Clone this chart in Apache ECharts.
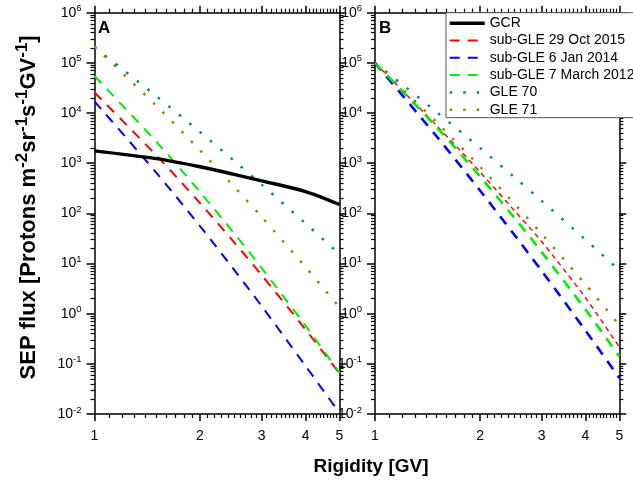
<!DOCTYPE html>
<html><head><meta charset="utf-8">
<script src="https://cdn.jsdelivr.net/npm/echarts@6/dist/echarts.min.js"></script>
<style>html,body{margin:0;padding:0;background:#fff}#c{width:633px;height:483px}</style>
</head><body><div id="c"></div>
<script>
// ---- data ----
const rigidity = [1, 1.5, 2, 2.5, 3, 4, 5];
const seriesNames = ['GCR', 'sub-GLE 29 Oct 2015', 'sub-GLE 6 Jan 2014', 'sub-GLE 7 March 2012', 'GLE 70', 'GLE 71'];
// Panel A
const gcrA     = [1760, 1230, 850, 600, 445, 272, 150];
const oct2015A = [25700, 1435, 160, 26.7, 5.86, 0.483, 0.064];
const jan2014A = [17100, 650, 55.5, 7.56, 1.41, 0.0906, 0.0105];
const mar2012A = [54700, 2690, 267, 40.4, 8.11, 0.574, 0.0664];
const gle70A   = [205000, 21800, 4190, 1119, 373, 63.1, 15.3];
const gle71A   = [212000, 14000, 1803, 343, 84.3, 8.49, 1.33];
// Panel B
const oct2015B = [100000, 5620, 661, 115, 27.2, 2.08, 0.216];
const jan2014B = [100000, 3440, 282, 37.9, 7.08, 0.463, 0.0523];
const mar2012B = [100000, 5230, 538, 83, 16.9, 1.21, 0.141];
const gle70B   = [100000, 10500, 1995, 532, 177, 30.0, 7.31];
const gle71B   = [100000, 6580, 841, 158, 38.7, 3.84, 0.593];
// ticks
const xMajorTicks = [1, 2, 3, 4, 5];
const xMinorTicks = [1.1,1.2,1.3,1.4,1.5,1.6,1.7,1.8,1.9,2.1,2.2,2.3,2.4,2.5,2.6,2.7,2.8,2.9,3.1,3.2,3.3,3.4,3.5,3.6,3.7,3.8,3.9,4.1,4.2,4.3,4.4,4.5,4.6,4.7,4.8,4.9];
const yMajorTicks = [0.01, 0.1, 1, 10, 100, 1000, 10000, 100000, 1000000];
const yMinorTicks = [];
for (let e = -2; e <= 5; e++) for (let k = 2; k <= 9; k++) yMinorTicks.push(+(k * Math.pow(10, e)).toPrecision(6));

const FONT = '"Liberation Sans", Arial, sans-serif';
const BLACK = '#000';
const C = {gcr:'#000000', red:'#ff0000', blue:'#0000ff', green:'#00ee00', teal:'#00868b', olive:'#8b8b00'};

const grids = [
  {left: 94.5, top: 12.7, width: 245, height: 401.3},
  {left: 375, top: 12.7, width: 244.3, height: 401.3}
];

function xAxes(gi) {
  const base = {gridIndex: gi, type: 'log', logBase: 10, min: 1, max: 5, splitLine: {show: false}, minorTick:{show:false}};
  return [
    Object.assign({}, base, {position: 'bottom',
      axisLine: {show: true, lineStyle: {color: BLACK, width: 1.5}},
      axisTick: {show: true, inside: false, length: 7, lineStyle: {color: BLACK, width: 1.5}, customValues: xMajorTicks},
      axisLabel: {show: true, customValues: xMajorTicks, formatter: v => String(Math.round(v)), fontSize: 14, color: BLACK, fontFamily: FONT, margin: 15}}),
    Object.assign({}, base, {position: 'bottom', axisLine: {show: false},
      axisTick: {show: true, inside: false, length: 4, lineStyle: {color: BLACK, width: 1.2}, customValues: xMinorTicks},
      axisLabel: {show: false}}),
    Object.assign({}, base, {position: 'top',
      axisLine: {show: true, lineStyle: {color: BLACK, width: 1.5}},
      axisTick: {show: true, inside: false, length: 7, lineStyle: {color: BLACK, width: 1.5}, customValues: xMajorTicks},
      axisLabel: {show: false}}),
    Object.assign({}, base, {position: 'top', axisLine: {show: false},
      axisTick: {show: true, inside: false, length: 4, lineStyle: {color: BLACK, width: 1.2}, customValues: xMinorTicks},
      axisLabel: {show: false}})
  ];
}
function yAxes(gi, withName) {
  const base = {gridIndex: gi, type: 'log', logBase: 10, min: 0.01, max: 1000000, splitLine: {show: false}, minorTick:{show:false}};
  const left = Object.assign({}, base, {position: 'left',
      axisLine: {show: true, lineStyle: {color: BLACK, width: 1.5}},
      axisTick: {show: true, inside: false, length: 8, lineStyle: {color: BLACK, width: 1.5}, customValues: yMajorTicks},
      axisLabel: {show: true, customValues: yMajorTicks, margin: 13, color: BLACK,
        formatter: v => '{b|10}{s|' + Math.round(Math.log10(v)) + '}',
        rich: {b: {fontSize: 14, fontFamily: FONT, color: BLACK, lineHeight: 18},
               s: {fontSize: 9.5, fontFamily: FONT, color: BLACK, lineHeight: 11, verticalAlign: 'top'}}}});
  if (withName) {
    Object.assign(left, {
      name: '{t|SEP flux [Protons m}{s|-2}{t|sr}{s|-1}{t|s}{s|-1}{t|GV}{s|-1}{t|]}',
      nameLocation: 'middle', nameRotate: 90, nameGap: 50,
      nameTextStyle: {padding: [0, 0, 0, 12], rich: {
        t: {fontSize: 22, fontWeight: 'bold', fontFamily: FONT, color: BLACK, lineHeight: 31},
        s: {fontSize: 17, fontWeight: 'bold', fontFamily: FONT, color: BLACK, lineHeight: 17, verticalAlign: 'top'}}}
    });
  }
  return [
    left,
    Object.assign({}, base, {position: 'left', axisLine: {show: false},
      axisTick: {show: true, inside: false, length: 4, lineStyle: {color: BLACK, width: 1.2}, customValues: yMinorTicks},
      axisLabel: {show: false}}),
    Object.assign({}, base, {position: 'right',
      axisLine: {show: true, lineStyle: {color: BLACK, width: 1.5}},
      axisTick: {show: true, inside: false, length: 7, lineStyle: {color: BLACK, width: 1.5}, customValues: yMajorTicks},
      axisLabel: {show: false}}),
    Object.assign({}, base, {position: 'right', axisLine: {show: false},
      axisTick: {show: true, inside: false, length: 4, lineStyle: {color: BLACK, width: 1.2}, customValues: yMinorTicks},
      axisLabel: {show: false}})
  ];
}

function pairs(vals) { return rigidity.map((r, i) => [r, vals[i]]); }
function line(name, vals, axisIdx, color, width, type, z) {
  return {name: name, type: 'line', xAxisIndex: axisIdx, yAxisIndex: axisIdx, data: pairs(vals),
    showSymbol: false, symbol: 'none', smooth: 0.3, z: z || 3, clip: true,
    itemStyle: {color: color},
    lineStyle: {color: color, width: width, type: type, cap: 'butt'}};
}

const DASH = [10, 8];
const DOT = [2.5, 11];
const series = [
  line(seriesNames[0], gcrA, 0, C.gcr, 3.4, 'solid', 4),
  line(seriesNames[1], oct2015A, 0, C.red, 2, DASH),
  line(seriesNames[2], jan2014A, 0, C.blue, 2, DASH),
  line(seriesNames[3], mar2012A, 0, C.green, 2, DASH),
  line(seriesNames[4], gle70A, 0, C.teal, 2.5, DOT),
  line(seriesNames[5], gle71A, 0, C.olive, 2.5, DOT),
  line(seriesNames[1], oct2015B, 4, C.red, 1.4, [5, 4]),
  line(seriesNames[2], jan2014B, 4, C.blue, 2.6, DASH),
  line(seriesNames[3], mar2012B, 4, C.green, 2.6, DASH),
  line(seriesNames[4], gle70B, 4, C.teal, 2.5, DOT),
  line(seriesNames[5], gle71B, 4, C.olive, 2.5, DOT)
];

const option = {
  animation: false,
  backgroundColor: '#fff',
  grid: grids,
  xAxis: xAxes(0).concat(xAxes(1)),
  yAxis: yAxes(0, true).concat(yAxes(1, false)),
  legend: {
    orient: 'vertical', left: 446, top: 12.7,
    data: seriesNames,
    backgroundColor: '#fff', borderColor: '#555', borderWidth: 1,
    padding: [2.5, 40, 0, 2],
    itemWidth: 35, itemHeight: 14, itemGap: 1.3,
    itemStyle: {opacity: 0},
    lineStyle: {width: 'inherit'},
    textStyle: {fontSize: 14, fontFamily: FONT, color: BLACK, lineHeight: 16},
    selectedMode: false, z: 10
  },
  graphic: [
    {type: 'text', left: 98, top: 20, style: {text: 'A', fontSize: 17, fontWeight: 'bold', fontFamily: FONT, fill: BLACK}},
    {type: 'text', left: 379, top: 20, style: {text: 'B', fontSize: 17, fontWeight: 'bold', fontFamily: FONT, fill: BLACK}},
    {type: 'text', x: 371, y: 467, style: {text: 'Rigidity [GV]', fontSize: 19, fontWeight: 'bold', fontFamily: FONT, fill: BLACK, align: 'center', verticalAlign: 'middle', textAlign: 'center', textVerticalAlign: 'middle'}}
  ],
  series: series
};
const chart = echarts.init(document.getElementById('c'), null, {renderer: 'canvas'});
chart.setOption(option);
</script>
</body></html>
